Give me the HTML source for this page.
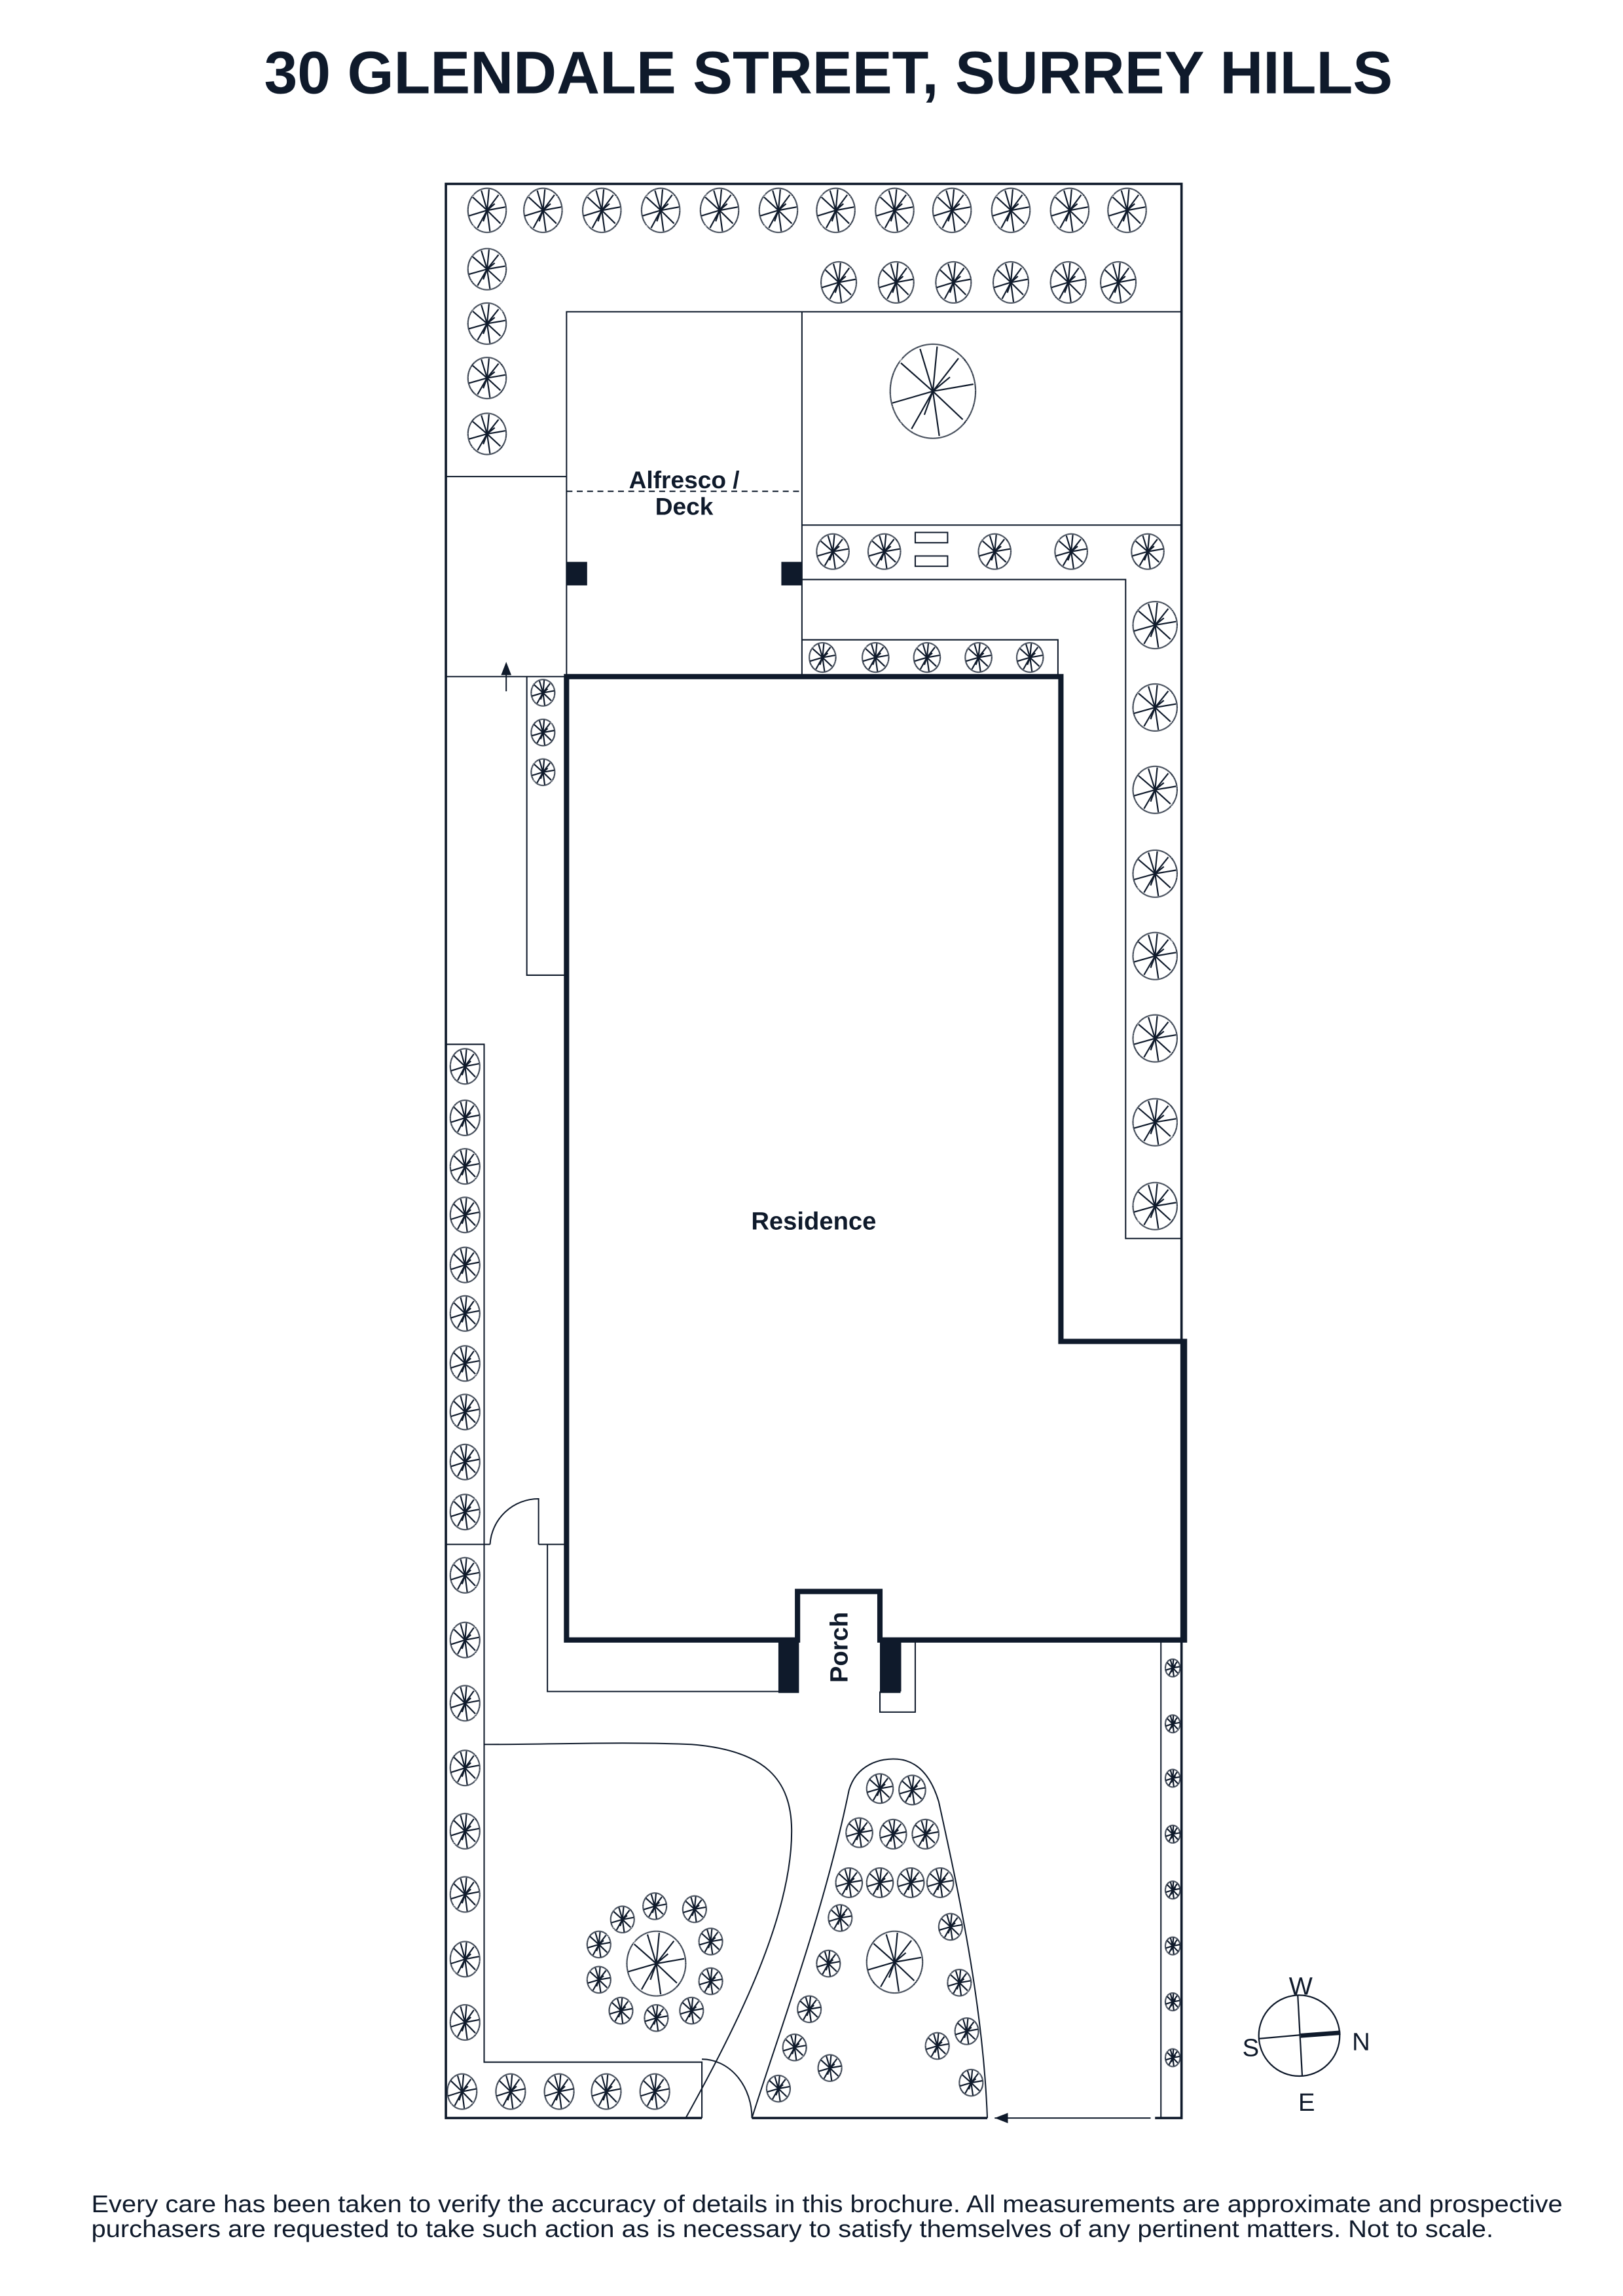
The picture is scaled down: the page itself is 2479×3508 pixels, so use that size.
<!DOCTYPE html>
<html><head><meta charset="utf-8">
<style>html,body{margin:0;padding:0;background:#fff;}svg{display:block;}</style>
</head><body>
<svg xmlns="http://www.w3.org/2000/svg" xmlns:xlink="http://www.w3.org/1999/xlink" width="2479" height="3508" viewBox="0 0 1103 1561">
<defs>
<g id="t" fill="none" stroke="#0f1a2b" stroke-width="2.2">
<circle r="1" stroke-dasharray="0.12 0.04" vector-effect="non-scaling-stroke"/>
<path vector-effect="non-scaling-stroke" d="M0 0L0.1 -0.95M0 0L0.6 -0.7M0 0L0.95 -0.15M0 0L0.7 0.6M0 0L0.15 0.95M0 0L-0.5 0.8M0 0L-0.95 0.25M0 0L-0.75 -0.6M0 0L-0.3 -0.9M0 0L0.4 -0.3M0 0L-0.2 0.5"/>
</g>
</defs>
<rect width="1103" height="1561" fill="#fff"/>
<text x="563" y="63.5" text-anchor="middle" font-family="Liberation Sans, sans-serif" font-weight="bold" font-size="41" fill="#0f1a2b" textLength="767" lengthAdjust="spacingAndGlyphs">30 GLENDALE STREET, SURREY HILLS</text>

<g fill="none" stroke="#0f1a2b" stroke-width="0.9">
<path d="M477 1440H303V125H803V1440H785" stroke-width="1.6"/>
<path d="M511 1440H671" stroke-width="1.6"/>
<path d="M676 1440H782"/>
<polygon points="676,1440 685,1436.5 685,1443.5" fill="#0f1a2b" stroke="none"/>
<path d="M385 460V212H803M545 212V460M545 357H803M303 324H385M303 460H385"/>
<path d="M385 334H545" stroke-dasharray="4 3"/>
<path d="M545 394H765V842H803M545 435H719V460"/>
<path d="M344 470V456"/>
<rect x="622" y="362" width="22" height="7"/>
<rect x="622" y="378" width="22" height="7"/>
<path d="M385 663H358V460"/>
<path d="M303 710H329V1402H477V1440M303 1050H333M366 1050H385"/>
<path d="M366 1050V1019A33 33 0 0 0 333 1050"/>
<path d="M372 1050V1150H530M612 1150V1115H622V1164H598V1150"/>
<path d="M477 1400A34 40 0 0 1 511 1440"/>
<path d="M789 1115V1440M803 1115V1440"/>
<path d="M329 1186C380 1186 420 1184 470 1186C520 1190 538 1210 538 1245C538 1300 505 1370 466 1440"/>
<path d="M511 1440C530 1380 560 1300 577 1217C582 1200 598 1195 610 1196C622 1197 632 1205 638 1225C650 1280 668 1360 671 1440"/>
</g>
<path d="M385 460H721V912H805V1115H598V1082H542V1115H385Z" fill="none" stroke="#0f1a2b" stroke-width="3.6"/>
<g fill="#0f1a2b">
<rect x="385" y="382" width="14" height="16"/>
<rect x="531" y="382" width="14" height="16"/>
<rect x="529" y="1115" width="14" height="36"/>
<rect x="598" y="1115" width="14" height="36"/>
<polygon points="344,450 340.5,459 347.5,459"/>
</g>

<g>
<use href="#t" transform="translate(331,143) scale(13,15)"/>
<use href="#t" transform="translate(369,143) scale(13,15)"/>
<use href="#t" transform="translate(409,143) scale(13,15)"/>
<use href="#t" transform="translate(449,143) scale(13,15)"/>
<use href="#t" transform="translate(489,143) scale(13,15)"/>
<use href="#t" transform="translate(529,143) scale(13,15)"/>
<use href="#t" transform="translate(568,143) scale(13,15)"/>
<use href="#t" transform="translate(608,143) scale(13,15)"/>
<use href="#t" transform="translate(647,143) scale(13,15)"/>
<use href="#t" transform="translate(687,143) scale(13,15)"/>
<use href="#t" transform="translate(727,143) scale(13,15)"/>
<use href="#t" transform="translate(766,143) scale(13,15)"/>
<use href="#t" transform="translate(331,183) scale(13,14)"/>
<use href="#t" transform="translate(331,220) scale(13,14)"/>
<use href="#t" transform="translate(331,257) scale(13,14)"/>
<use href="#t" transform="translate(331,295) scale(13,14)"/>
<use href="#t" transform="translate(570,192) scale(12,14)"/>
<use href="#t" transform="translate(609,192) scale(12,14)"/>
<use href="#t" transform="translate(648,192) scale(12,14)"/>
<use href="#t" transform="translate(687,192) scale(12,14)"/>
<use href="#t" transform="translate(726,192) scale(12,14)"/>
<use href="#t" transform="translate(760,192) scale(12,14)"/>
<use href="#t" transform="translate(634,266) scale(29,32)"/>
<use href="#t" transform="translate(566,375) scale(11,12)"/>
<use href="#t" transform="translate(601,375) scale(11,12)"/>
<use href="#t" transform="translate(676,375) scale(11,12)"/>
<use href="#t" transform="translate(728,375) scale(11,12)"/>
<use href="#t" transform="translate(780,375) scale(11,12)"/>
<use href="#t" transform="translate(559,447) scale(9,10)"/>
<use href="#t" transform="translate(595,447) scale(9,10)"/>
<use href="#t" transform="translate(630,447) scale(9,10)"/>
<use href="#t" transform="translate(665,447) scale(9,10)"/>
<use href="#t" transform="translate(700,447) scale(9,10)"/>
<use href="#t" transform="translate(369,471) scale(8,9)"/>
<use href="#t" transform="translate(369,498) scale(8,9)"/>
<use href="#t" transform="translate(369,525) scale(8,9)"/>
<use href="#t" transform="translate(785,425) scale(15,16)"/>
<use href="#t" transform="translate(785,481) scale(15,16)"/>
<use href="#t" transform="translate(785,537) scale(15,16)"/>
<use href="#t" transform="translate(785,594) scale(15,16)"/>
<use href="#t" transform="translate(785,650) scale(15,16)"/>
<use href="#t" transform="translate(785,706) scale(15,16)"/>
<use href="#t" transform="translate(785,763) scale(15,16)"/>
<use href="#t" transform="translate(785,820) scale(15,16)"/>
<use href="#t" transform="translate(316,725) scale(10,12)"/>
<use href="#t" transform="translate(316,760) scale(10,12)"/>
<use href="#t" transform="translate(316,793) scale(10,12)"/>
<use href="#t" transform="translate(316,826) scale(10,12)"/>
<use href="#t" transform="translate(316,860) scale(10,12)"/>
<use href="#t" transform="translate(316,893) scale(10,12)"/>
<use href="#t" transform="translate(316,927) scale(10,12)"/>
<use href="#t" transform="translate(316,960) scale(10,12)"/>
<use href="#t" transform="translate(316,994) scale(10,12)"/>
<use href="#t" transform="translate(316,1028) scale(10,12)"/>
<use href="#t" transform="translate(316,1071) scale(10,12)"/>
<use href="#t" transform="translate(316,1115) scale(10,12)"/>
<use href="#t" transform="translate(316,1158) scale(10,12)"/>
<use href="#t" transform="translate(316,1202) scale(10,12)"/>
<use href="#t" transform="translate(316,1245) scale(10,12)"/>
<use href="#t" transform="translate(316,1288) scale(10,12)"/>
<use href="#t" transform="translate(316,1332) scale(10,12)"/>
<use href="#t" transform="translate(316,1375) scale(10,12)"/>
<use href="#t" transform="translate(314,1422) scale(10,12)"/>
<use href="#t" transform="translate(347,1422) scale(10,12)"/>
<use href="#t" transform="translate(380,1422) scale(10,12)"/>
<use href="#t" transform="translate(412,1422) scale(10,12)"/>
<use href="#t" transform="translate(445,1422) scale(10,12)"/>
<use href="#t" transform="translate(446,1335) scale(20,22)"/>
<use href="#t" transform="translate(423,1305) scale(8,9)"/>
<use href="#t" transform="translate(445,1296) scale(8,9)"/>
<use href="#t" transform="translate(472,1298) scale(8,9)"/>
<use href="#t" transform="translate(407,1322) scale(8,9)"/>
<use href="#t" transform="translate(483,1320) scale(8,9)"/>
<use href="#t" transform="translate(407,1346) scale(8,9)"/>
<use href="#t" transform="translate(483,1347) scale(8,9)"/>
<use href="#t" transform="translate(422,1367) scale(8,9)"/>
<use href="#t" transform="translate(446,1372) scale(8,9)"/>
<use href="#t" transform="translate(470,1367) scale(8,9)"/>
<use href="#t" transform="translate(608,1334) scale(19,21)"/>
<use href="#t" transform="translate(598,1216) scale(9,10)"/>
<use href="#t" transform="translate(620,1217) scale(9,10)"/>
<use href="#t" transform="translate(584,1246) scale(9,10)"/>
<use href="#t" transform="translate(607,1247) scale(9,10)"/>
<use href="#t" transform="translate(629,1247) scale(9,10)"/>
<use href="#t" transform="translate(577,1280) scale(9,10)"/>
<use href="#t" transform="translate(598,1280) scale(9,10)"/>
<use href="#t" transform="translate(619,1280) scale(9,10)"/>
<use href="#t" transform="translate(639,1280) scale(9,10)"/>
<use href="#t" transform="translate(571,1304) scale(8,9)"/>
<use href="#t" transform="translate(646,1310) scale(8,9)"/>
<use href="#t" transform="translate(563,1335) scale(8,9)"/>
<use href="#t" transform="translate(652,1348) scale(8,9)"/>
<use href="#t" transform="translate(550,1366) scale(8,9)"/>
<use href="#t" transform="translate(657,1381) scale(8,9)"/>
<use href="#t" transform="translate(637,1391) scale(8,9)"/>
<use href="#t" transform="translate(540,1392) scale(8,9)"/>
<use href="#t" transform="translate(564,1406) scale(8,9)"/>
<use href="#t" transform="translate(529,1420) scale(8,9)"/>
<use href="#t" transform="translate(660,1416) scale(8,9)"/>
<use href="#t" transform="translate(797,1134) scale(5,6)"/>
<use href="#t" transform="translate(797,1172) scale(5,6)"/>
<use href="#t" transform="translate(797,1209) scale(5,6)"/>
<use href="#t" transform="translate(797,1247) scale(5,6)"/>
<use href="#t" transform="translate(797,1285) scale(5,6)"/>
<use href="#t" transform="translate(797,1323) scale(5,6)"/>
<use href="#t" transform="translate(797,1361) scale(5,6)"/>
<use href="#t" transform="translate(797,1399) scale(5,6)"/>
</g>

<g font-family="Liberation Sans, sans-serif" font-weight="bold" fill="#0f1a2b" text-anchor="middle">
<text x="465" y="332" font-size="16.5">Alfresco /</text>
<text x="465" y="350" font-size="16.5">Deck</text>
<text x="553" y="836" font-size="17">Residence</text>
<text transform="translate(576,1120) rotate(-90)" font-size="17">Porch</text>
</g>

<g fill="none" stroke="#0f1a2b">
<circle cx="883" cy="1384" r="27.5" stroke-width="1"/>
<path d="M882 1356.5L885 1411M856 1386L884 1383.5" stroke-width="1"/>
<path d="M884 1384L911 1382" stroke-width="3"/>
</g>
<g font-family="Liberation Sans, sans-serif" fill="#0f1a2b" font-size="17" text-anchor="middle">
<text x="884" y="1356">W</text>
<text x="850" y="1398">S</text>
<text x="925" y="1394">N</text>
<text x="888" y="1435">E</text>
</g>

<g font-family="Liberation Sans, sans-serif" fill="#0f1a2b" font-size="16.5">
<text x="62" y="1504" textLength="1000" lengthAdjust="spacingAndGlyphs">Every care has been taken to verify the accuracy of details in this brochure. All measurements are approximate and prospective</text>
<text x="62" y="1521" textLength="953" lengthAdjust="spacingAndGlyphs">purchasers are requested to take such action as is necessary to satisfy themselves of any pertinent matters. Not to scale.</text>
</g>
</svg>
</body></html>
